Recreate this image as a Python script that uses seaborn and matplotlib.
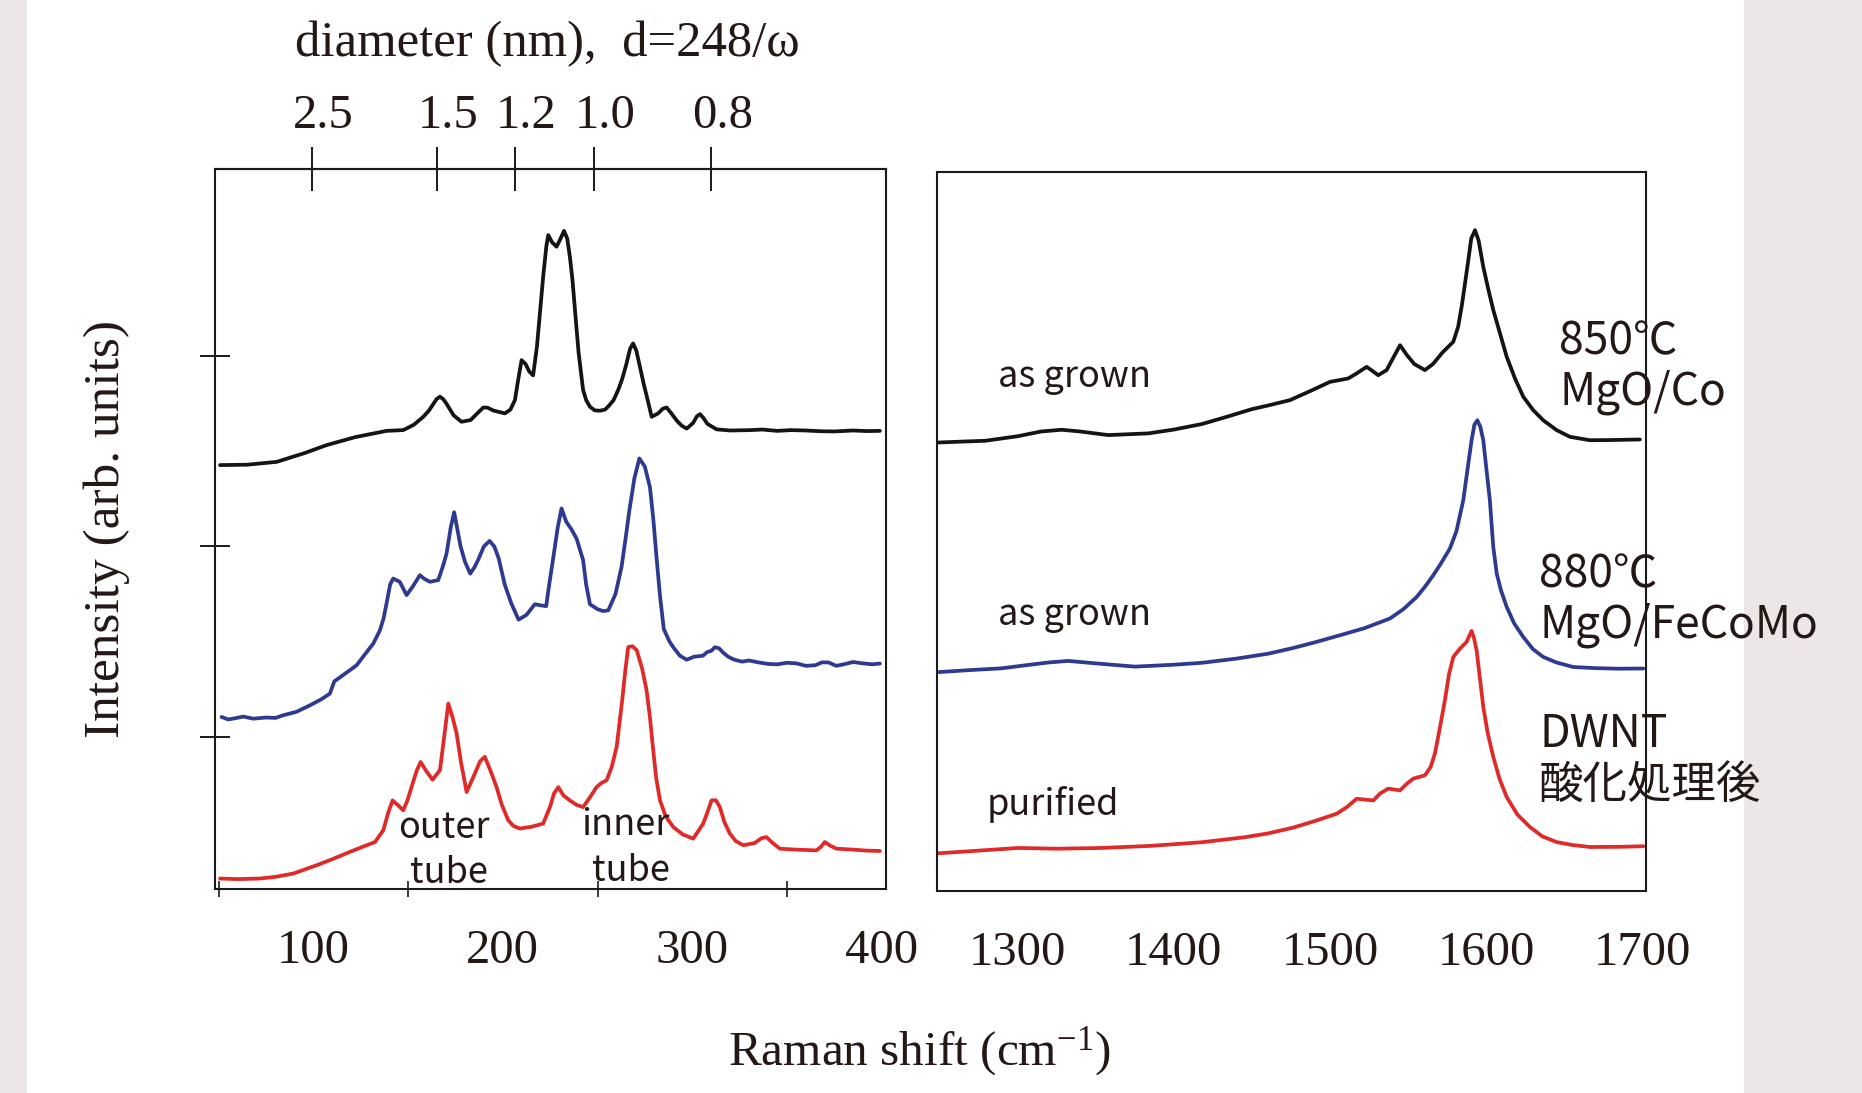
import matplotlib
matplotlib.use("Agg")
import matplotlib.pyplot as plt
from matplotlib.patches import Rectangle
from matplotlib.transforms import ScaledTranslation
import pandas as pd
import seaborn as sns

# ---------------- RBM region (left panel) ----------------
rbm_shift_850 = [50.7, 65, 80.6, 95, 106.9, 122, 138.6, 147.4, 153, 158.0, 161, 163, 165, 166.8, 168.5,
                 170, 174, 178.2, 183, 186.5, 189.7, 192, 195, 201.1, 204, 206.4, 208, 209.9, 212, 214,
                 216.0, 218, 219.8, 221.3, 223, 224.0, 226, 228.4, 230.5, 232.3, 234, 235.4, 236.8,
                 238.1, 240, 242.4, 244, 246, 248.5, 251.3, 254, 256, 258.5, 260.9, 263, 265, 267.2,
                 268.8, 270.5, 272.4, 274.5, 276, 278.6, 282, 284.5, 286.5, 289, 292, 294.5, 297.1,
                 300.5, 302.5, 304.1, 306, 308, 312.9, 320, 330.5, 337, 345, 352, 360, 368, 375, 385,
                 392, 399.1]
rbm_int_850 = [2.428, 2.430, 2.445, 2.49, 2.533, 2.575, 2.608, 2.612, 2.64, 2.682, 2.715, 2.745, 2.775,
               2.788, 2.775, 2.755, 2.69, 2.656, 2.665, 2.70, 2.731, 2.73, 2.715, 2.70, 2.72, 2.77, 2.87,
               2.98, 2.96, 2.92, 2.90, 3.05, 3.25, 3.419, 3.58, 3.638, 3.60, 3.577, 3.62, 3.66, 3.62,
               3.525, 3.40, 3.244, 3.02, 2.823, 2.77, 2.735, 2.716, 2.714, 2.72, 2.74, 2.77, 2.823,
               2.88, 2.95, 3.04, 3.068, 3.03, 2.945, 2.85, 2.79, 2.682, 2.70, 2.725, 2.731, 2.70, 2.66,
               2.635, 2.62, 2.65, 2.685, 2.696, 2.675, 2.645, 2.616, 2.61, 2.612, 2.615, 2.608, 2.612,
               2.61, 2.606, 2.605, 2.61, 2.607, 2.608]

rbm_shift_880 = [51.5, 55, 58, 63, 68.2, 75, 80, 84.1, 91, 98.1, 104, 108.7, 111, 113.1, 118, 122.8,
                 127, 131.6, 135.1, 137, 138.6, 140.5, 142.1, 145.6, 149.2, 152.5, 156.2, 158.5,
                 161.5, 165.9, 168.5, 170.3, 172.5, 174.3, 176.2, 177.7, 180, 182.8, 185, 187, 190,
                 193.0, 195.5, 197.8, 201, 204.5, 208.3, 212.5, 216.9, 220, 222.9, 224.5, 226.6, 229,
                 231.0, 233.5, 236.3, 239, 242.4, 244, 246.0, 250, 253, 255.7, 259.5, 262.7, 264.8,
                 266.8, 269.5, 272.1, 275, 277.7, 279.5, 281.2, 283, 285.0, 288, 290, 293.5, 297.1, 301,
                 305.6, 308, 310, 312, 314.2, 316.5, 319, 322, 326.3, 330, 335, 340, 345, 350, 355,
                 360, 365, 368.5, 372, 376, 380, 385, 390, 395, 399.1]
rbm_int_880 = [1.103, 1.09, 1.095, 1.105, 1.094, 1.10, 1.098, 1.112, 1.13, 1.164, 1.195, 1.226, 1.29,
               1.305, 1.34, 1.375, 1.43, 1.489, 1.559, 1.62, 1.70, 1.80, 1.831, 1.814, 1.744, 1.79,
               1.849, 1.83, 1.814, 1.823, 1.90, 1.963, 2.10, 2.18, 2.08, 2.00, 1.92, 1.857, 1.89, 1.93,
               2.00, 2.029, 2.00, 1.938, 1.80, 1.70, 1.615, 1.64, 1.696, 1.69, 1.686, 1.80, 1.938,
               2.10, 2.20, 2.13, 2.089, 2.04, 1.928, 1.80, 1.696, 1.67, 1.66, 1.664, 1.75, 1.893,
               2.04, 2.188, 2.36, 2.463, 2.42, 2.311, 2.14, 1.938, 1.74, 1.565, 1.50, 1.47, 1.425,
               1.404, 1.42, 1.425, 1.445, 1.45, 1.47, 1.464, 1.44, 1.42, 1.405, 1.394, 1.40, 1.39,
               1.382, 1.38, 1.388, 1.385, 1.372, 1.375, 1.39, 1.39, 1.372, 1.38, 1.392, 1.385, 1.38,
               1.384]

rbm_shift_dwnt = [50.7, 60, 71.7, 80, 89.3, 101.7, 110, 119.2, 126, 132.5, 136.9, 139.5, 141.8, 144.5,
                  147.4, 149.5, 151.8, 154.5, 156.6, 159.5, 162.9, 166.8, 168.8, 171.2, 173.5, 175.6,
                  178, 180.9, 185, 188, 190.5, 193.5, 196.7, 199.5, 202.9, 205.5, 209.0, 215, 221.3,
                  224.9, 227, 229.3, 232, 235.4, 239, 242.4, 246, 249.5, 252, 254.8, 257.5, 260.1,
                  263.0, 264.6, 266.2, 268.5, 270.7, 273.5, 275.9, 277.7, 279.3, 281, 283.0, 286,
                  290.0, 295, 300.5, 303, 305.8, 308, 310.2, 312.5, 314.6, 317, 319.9, 323, 327.0,
                  333, 336.5, 339.2, 342.5, 346.3, 355, 365.6, 368, 370.0, 373, 376.2, 385, 392, 399.1]
rbm_int_dwnt = [0.253, 0.25, 0.253, 0.262, 0.279, 0.323, 0.355, 0.393, 0.42, 0.445, 0.507, 0.60, 0.664,
                0.64, 0.612, 0.66, 0.734, 0.82, 0.866, 0.82, 0.773, 0.823, 0.98, 1.173, 1.10, 1.016,
                0.86, 0.708, 0.80, 0.87, 0.893, 0.82, 0.734, 0.64, 0.559, 0.53, 0.516, 0.525, 0.542,
                0.629, 0.70, 0.734, 0.69, 0.664, 0.64, 0.629, 0.68, 0.734, 0.755, 0.77, 0.84, 0.945,
                1.188, 1.34, 1.471, 1.475, 1.454, 1.36, 1.244, 1.10, 0.938, 0.78, 0.664, 0.58, 0.524,
                0.485, 0.463, 0.50, 0.542, 0.60, 0.664, 0.665, 0.629, 0.55, 0.489, 0.45, 0.428, 0.44,
                0.465, 0.471, 0.44, 0.41, 0.405, 0.401, 0.42, 0.445, 0.425, 0.41, 0.405, 0.40, 0.398]

# ---------------- G band region (right panel) ----------------
g_shift_850 = [1249.2, 1265, 1279.1, 1300, 1315, 1328.1, 1340, 1358.0, 1383.7, 1400, 1417.9, 1433,
               1449.8, 1462, 1474.4, 1488, 1500.0, 1511.7, 1517, 1523.5, 1527, 1530.9, 1536.3, 1541,
               1544.9, 1549, 1554, 1560.8, 1566, 1572, 1579.0, 1582.1, 1584.5, 1586.5, 1588.5,
               1590.5, 1592.9, 1595.2, 1598.2, 1601.5, 1604.6, 1608.9, 1613.2, 1618.5, 1623.8,
               1630.2, 1636.6, 1645.2, 1653.7, 1666.5, 1680, 1698.5]
g_int_850 = [2.547, 2.552, 2.556, 2.58, 2.605, 2.614, 2.605, 2.586, 2.595, 2.615, 2.644, 2.68, 2.722,
             2.745, 2.77, 2.82, 2.866, 2.884, 2.91, 2.945, 2.925, 2.901, 2.928, 3.00, 3.059, 3.01,
             2.96, 2.928, 2.96, 3.02, 3.077, 3.156, 3.27, 3.384, 3.50, 3.62, 3.664, 3.61, 3.471,
             3.35, 3.244, 3.121, 2.998, 2.884, 2.788, 2.717, 2.664, 2.612, 2.577, 2.559, 2.56, 2.563]

g_shift_880 = [1249.2, 1270, 1289.7, 1305, 1320, 1332.4, 1350, 1375.1, 1400, 1417.9, 1440, 1460.5,
               1476.4, 1490, 1506.4, 1522, 1538.4, 1547, 1555.5, 1561, 1566.2, 1571, 1576.8, 1581,
               1585.4, 1588, 1590.7, 1592.5, 1594.4, 1596.3, 1598.2, 1600.3, 1602.4, 1604.6, 1606.8,
               1609.5, 1613.2, 1618, 1623.8, 1630, 1636.6, 1645, 1655.8, 1670, 1685, 1700.7]
g_int_880 = [1.339, 1.35, 1.359, 1.375, 1.39, 1.398, 1.385, 1.368, 1.378, 1.388, 1.41, 1.436, 1.466,
             1.495, 1.533, 1.57, 1.621, 1.67, 1.734, 1.79, 1.849, 1.91, 1.989, 2.08, 2.244, 2.40,
             2.559, 2.64, 2.664, 2.63, 2.559, 2.40, 2.244, 1.998, 1.858, 1.77, 1.682, 1.595, 1.524,
             1.46, 1.419, 1.39, 1.366, 1.36, 1.357, 1.358]

g_shift_dwnt = [1249.2, 1275, 1300.4, 1325, 1353.8, 1385, 1417.9, 1445, 1460, 1476.4, 1490, 1504.3,
                1511, 1517.1, 1527.8, 1532, 1537.3, 1544.9, 1549, 1553.4, 1560.8, 1564.5, 1567.2,
                1570.5, 1573.6, 1576.3, 1579.0, 1583.3, 1587.5, 1590.7, 1592.2, 1593.9, 1596,
                1598.2, 1601, 1604.6, 1608.5, 1613.2, 1620, 1628.1, 1636, 1645.2, 1655, 1666.5,
                1685, 1700.7]
g_int_dwnt = [0.386, 0.40, 0.414, 0.41, 0.414, 0.425, 0.444, 0.47, 0.49, 0.521, 0.555, 0.594, 0.63,
              0.673, 0.664, 0.70, 0.726, 0.717, 0.75, 0.779, 0.796, 0.84, 0.91, 1.05, 1.191, 1.33,
              1.419, 1.463, 1.498, 1.556, 1.52, 1.454, 1.31, 1.156, 1.02, 0.893, 0.78, 0.682, 0.59,
              0.524, 0.475, 0.445, 0.43, 0.419, 0.42, 0.423]

sample_names = ["850", "880", "DWNT"]
sample_colors = ["#141414", "#2e3a8f", "#e02a2a"]

diameter_ticks = [2.5, 1.5, 1.2, 1.0, 0.8]
diameter_labels = ["2.5", "1.5", "1.2", "1.0", "0.8"]
rbm_ticks = [100, 200, 300, 400]
rbm_minor_ticks = [50, 150, 250, 350]
g_ticks = [1300, 1400, 1500, 1600, 1700]
intensity_ticks = [1, 2, 3]


def frame(shift, inten, name):
    return pd.DataFrame({"shift": shift, "intensity": inten, "sample": name})


rbm = pd.concat([frame(rbm_shift_850, rbm_int_850, "850"),
                 frame(rbm_shift_880, rbm_int_880, "880"),
                 frame(rbm_shift_dwnt, rbm_int_dwnt, "DWNT")], ignore_index=True)
gband = pd.concat([frame(g_shift_850, g_int_850, "850"),
                   frame(g_shift_880, g_int_880, "880"),
                   frame(g_shift_dwnt, g_int_dwnt, "DWNT")], ignore_index=True)

sns.set_theme(style="white")
plt.rcParams["font.family"] = ["Liberation Serif", "DejaVu Serif"]
plt.rcParams["mathtext.fontset"] = "custom"
plt.rcParams["mathtext.rm"] = "Liberation Serif"
plt.rcParams["mathtext.it"] = "Liberation Serif"

INK = "#231815"
SERIF = ["Liberation Serif", "DejaVu Serif"]
SANS = ["Noto Sans CJK JP", "DejaVu Sans"]

fig = plt.figure(figsize=(18.62, 10.93), dpi=100)
fig.patch.set_facecolor("white")
fig.add_artist(Rectangle((0, 0), 27 / 1862, 1, transform=fig.transFigure,
                         facecolor="#ede6e6", edgecolor="none", zorder=0))
fig.add_artist(Rectangle((1744 / 1862, 0), 1 - 1744 / 1862, 1, transform=fig.transFigure,
                         facecolor="#ede6e6", edgecolor="none", zorder=0))

ax_l = fig.add_axes([0.1154, 0.1870, 0.3603, 0.6587])
ax_r = fig.add_axes([0.5032, 0.1848, 0.3807, 0.6576])

palette = dict(zip(sample_names, sample_colors))
for ax, df in ((ax_l, rbm), (ax_r, gband)):
    sns.lineplot(data=df, x="shift", y="intensity", hue="sample", palette=palette,
                 estimator=None, sort=False, linewidth=2.7, legend=False, ax=ax)
    for line in ax.get_lines():
        line.set_solid_joinstyle("round")
    ax.set_xlabel("")
    ax.set_ylabel("")
    for sp in ax.spines.values():
        sp.set_visible(True)
        sp.set_linewidth(1.5)
        sp.set_color("#1a1a1a")

ax_l.set_xlim(47.96, 402.2)
ax_l.set_ylim(0.2, 3.9875)
ax_r.set_xlim(1248.3, 1702.3)
ax_r.set_ylim(0.1875, 3.96875)

# left panel ticks
ax_l.set_xticks(rbm_ticks)
ax_l.set_xticklabels([str(t) for t in rbm_ticks])
ax_l.set_xticks(rbm_minor_ticks, minor=True)
ax_l.set_yticks(intensity_ticks)
ax_l.set_yticklabels([])
ax_l.tick_params(axis="x", which="major", direction="inout", length=22, width=1.4,
                 color="#1a1a1a", pad=18, labelsize=35, labelcolor=INK)
ax_l.tick_params(axis="x", which="minor", direction="inout", length=11, width=1.2,
                 color="#1a1a1a", bottom=True)
ax_l.tick_params(axis="y", which="major", direction="inout", length=22, width=1.4,
                 color="#1a1a1a", left=True)

# right panel ticks
ax_r.set_xticks(g_ticks)
ax_r.set_xticklabels([str(t) for t in g_ticks])
ax_r.set_yticks([])
ax_r.tick_params(axis="x", which="major", direction="inout", length=22, width=1.4,
                 color="#1a1a1a", pad=18, labelsize=35, labelcolor=INK)

# diameter scale along the top of the RBM panel
top = ax_l.secondary_xaxis("top", functions=(lambda w: 248.0 / w, lambda d: 248.0 / d))
top.set_xticks(diameter_ticks)
top.set_xticklabels(diameter_labels)
top.tick_params(axis="x", direction="inout", length=32, width=1.4, color="#1a1a1a",
                pad=6, labelsize=35, labelcolor=INK)
top.spines["top"].set_linewidth(1.5)
shift_right = ScaledTranslation(0.11, 0, fig.dpi_scale_trans)
for lab in top.get_xticklabels():
    lab.set_transform(lab.get_transform() + shift_right)

# axis titles
fig.text(0.294, 0.960, "diameter (nm),  d=248/ω", ha="center", va="center",
         fontsize=36.5, color=INK, family=SERIF)
fig.text(0.0574, 0.516, "Intensity (arb. units)", ha="center", va="center", rotation=90,
         fontsize=37, color=INK, family=SERIF)
fig.text(0.494, 0.038, r"Raman shift (cm$^{\mathrm{-1}}$)", ha="center", va="center",
         fontsize=35.5, color=INK, family=SERIF)

# annotations (figure fraction coordinates)
W, H = 1568.0, 920.0


def note(x, y, s, size, ha="left"):
    fig.text(x / W, 1 - y / H, s, ha=ha, va="center", fontsize=size, color=INK, family=SANS)


note(840, 317, "as grown", 26)
note(840, 518, "as grown", 26)
note(831, 677, "purified", 26)
note(1313, 287, "850℃", 32)
note(1313, 330, "MgO/Co", 32)
note(1296, 483, "880℃", 32)
note(1296, 526, "MgO/FeCoMo", 32)
note(1296, 618, "DWNT", 32)
note(1296, 661, "酸化処理後", 32)
note(374, 697, "outer", 26, ha="center")
note(378, 735, "tube", 26, ha="center")
note(527, 694, "inner", 26, ha="center")
note(531, 733, "tube", 26, ha="center")

fig.savefig("out.png", dpi=100, facecolor="white")
